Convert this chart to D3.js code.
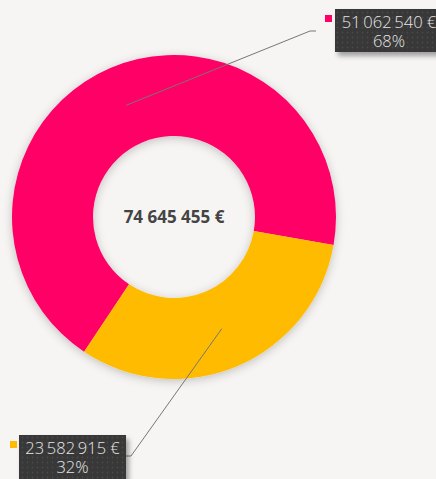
<!DOCTYPE html>
<html>
<head>
<meta charset="utf-8">
<script src="https://cdn.jsdelivr.net/npm/d3@7"></script>
<style>
  html, body { margin: 0; padding: 0; background: #f6f5f3; overflow: hidden; }
  svg { display: block; }
</style>
</head>
<body>
<div id="main"></div>
<script>
const categories = ['A', 'B'];
const values = [51062540, 23582915];
const colors = ['#ff0066', '#ffbb00'];

const width = 436, height = 479;
const cx = 174, cy = 217;
const outerR = 162, innerR = 81;

const total = d3.sum(values);
const fmt = d3.formatLocale({ thousands: '\u2009', grouping: [3], decimal: ',', currency: ['', ' €'] });
const money = v => fmt.format(',')(v) + ' €';
const moneyTotal = v => d3.formatLocale({ thousands: ' ', grouping: [3], decimal: ',', currency: ['', ''] }).format(',')(v) + ' €';

const svg = d3.select('#main').append('svg').attr('width', width).attr('height', height);

const defs = svg.append('defs');
const shadow = defs.append('filter').attr('id', 'shadow')
    .attr('x', '-20%').attr('y', '-20%').attr('width', '140%').attr('height', '140%');
shadow.append('feDropShadow').attr('dx', 0).attr('dy', 2).attr('stdDeviation', 5)
    .attr('flood-color', '#000').attr('flood-opacity', 0.22);

const boxShadow = defs.append('filter').attr('id', 'boxshadow')
    .attr('x', '-20%').attr('y', '-30%').attr('width', '150%').attr('height', '180%');
boxShadow.append('feDropShadow').attr('dx', 3).attr('dy', 4).attr('stdDeviation', 2.5)
    .attr('flood-color', '#000').attr('flood-opacity', 0.35);

const pat = defs.append('pattern').attr('id', 'dots')
    .attr('width', 5).attr('height', 5).attr('patternUnits', 'userSpaceOnUse');
pat.append('rect').attr('width', 5).attr('height', 5).attr('fill', '#383838');
pat.append('circle').attr('cx', 2.5).attr('cy', 2.5).attr('r', 0.9).attr('fill', '#4a4a4a');

const pie = d3.pie().sort(null).startAngle(-2.553).endAngle(-2.553 + 2 * Math.PI);
const arc = d3.arc().innerRadius(innerR).outerRadius(outerR);
const midArc = d3.arc().innerRadius((innerR + outerR) / 2).outerRadius((innerR + outerR) / 2);

const arcs = pie(values);

const g = svg.append('g').attr('transform', `translate(${cx},${cy})`);

g.append('g').attr('filter', 'url(#shadow)')
    .selectAll('path')
    .data(arcs)
    .enter()
        .append('path')
            .attr('d', arc)
            .attr('fill', (d, i) => colors[i]);

g.append('text')
    .attr('x', 0)
    .attr('y', 6)
    .style('font-family', '"Open Sans", sans-serif')
    .style('font-weight', 'bold')
    .style('font-size', '17px')
    .style('fill', '#444')
    .style('text-anchor', 'middle')
    .text(moneyTotal(total));

// label boxes: top-left corner, and where the leader line meets it
const labelPos = [
    { x: 335, y: 9,   w: 108, h: 43, lineEnd: [316, 31], bend: [310, 31], sq: [325, 15] },
    { x: 19,  y: 435, w: 107, h: 45, lineEnd: [126, 456], bend: [131, 456], sq: [10, 441] }
];

arcs.forEach((d, i) => {
    const p = labelPos[i];
    const c = midArc.centroid(d);
    svg.append('polyline')
        .attr('points', [[c[0] + cx, c[1] + cy], p.bend, p.lineEnd].map(q => q.join(',')).join(' '))
        .attr('fill', 'none')
        .attr('stroke', '#777')
        .attr('stroke-width', 1);

    svg.append('rect')
        .attr('x', p.sq[0]).attr('y', p.sq[1])
        .attr('width', 7).attr('height', 7)
        .attr('fill', colors[i]);

    svg.append('rect')
        .attr('x', p.x).attr('y', p.y)
        .attr('width', p.w).attr('height', p.h)
        .attr('fill', 'url(#dots)')
        .attr('filter', 'url(#boxshadow)');

    const t = svg.append('text')
        .style('font-family', '"Open Sans", sans-serif')
        .style('font-weight', 300)
        .style('font-size', '16.5px')
        .style('fill', '#e6e6e6')
        .style('text-anchor', 'middle');
    t.append('tspan').attr('x', p.x + p.w / 2).attr('y', p.y + 19).text(money(values[i]));
    t.append('tspan').attr('x', p.x + p.w / 2).attr('y', p.y + 38).text(Math.round(values[i] / total * 100) + '%');
});
</script>
</body>
</html>
